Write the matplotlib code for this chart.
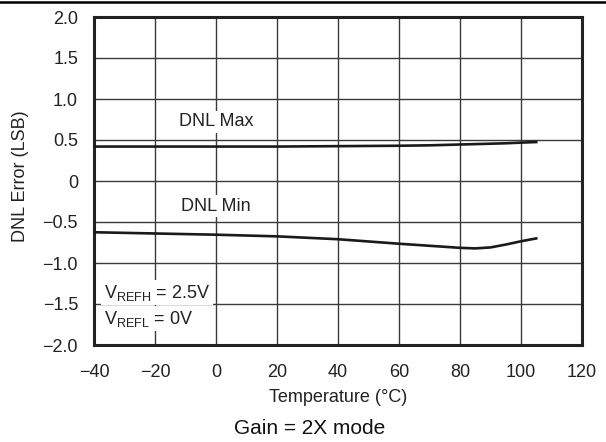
import matplotlib
matplotlib.use("Agg")
import matplotlib.pyplot as plt
from matplotlib.lines import Line2D

plt.rcParams['font.family'] = ['Liberation Sans', 'DejaVu Sans']
plt.rcParams['mathtext.fontset'] = 'custom'
plt.rcParams['mathtext.rm'] = 'Liberation Sans'

temps = [-40, -20, 0, 20, 40, 60, 70, 80, 85, 90, 95, 100, 105]
dnl_max = [0.42, 0.42, 0.42, 0.42, 0.425, 0.43, 0.435, 0.445, 0.45, 0.455, 0.46, 0.468, 0.475]
dnl_min = [-0.625, -0.64, -0.655, -0.675, -0.71, -0.765, -0.79, -0.815, -0.822, -0.81, -0.775, -0.735, -0.70]

x_ticks = [-40, -20, 0, 20, 40, 60, 80, 100, 120]
y_ticks = [-2.0, -1.5, -1.0, -0.5, 0, 0.5, 1.0, 1.5, 2.0]
y_labels = ['\u22122.0', '\u22121.5', '\u22121.0', '\u22120.5', '0', '0.5', '1.0', '1.5', '2.0']
x_labels = ['\u221240', '\u221220', '0', '20', '40', '60', '80', '100', '120']

FS = 13

fig = plt.figure(figsize=(6.06, 4.42), dpi=100)
ax = fig.add_axes([94/606, 1 - 345/442, (582-94)/606, (345-17)/442])

ax.set_xlim(-40, 120)
ax.set_ylim(-2.0, 2.0)
ax.set_xticks(x_ticks)
ax.set_xticklabels(x_labels)
ax.set_yticks(y_ticks)
ax.set_yticklabels(y_labels)
ax.grid(True, color='#3a3a3a', linewidth=1.0)
ax.set_axisbelow(True)
ax.tick_params(axis='both', length=0, labelsize=FS, colors='#222222')
ax.tick_params(axis='x', pad=14)
ax.tick_params(axis='y', pad=11.5)
for s in ax.spines.values():
    s.set_linewidth(2.2)
    s.set_color('#222222')

ax.plot(temps, dnl_max, color='#1a1a1a', linewidth=1.9, zorder=3)
ax.plot(temps, dnl_min, color='#1a1a1a', linewidth=1.9, zorder=3)

box = dict(facecolor='white', edgecolor='none', pad=2)
ax.text(0, 0.72, 'DNL Max', ha='center', va='center', fontsize=FS, color='#222222', bbox=box, zorder=4)
ax.text(0, -0.305, 'DNL Min', ha='center', va='center', fontsize=FS, color='#222222', bbox=box, zorder=4)
ax.text(-36.7, -1.36, r'V$_{\mathregular{REFH}}$ = 2.5V', ha='left', va='center', fontsize=FS, color='#222222', bbox=box, zorder=4)
ax.text(-36.7, -1.68, r'V$_{\mathregular{REFL}}$ = 0V', ha='left', va='center', fontsize=FS, color='#222222', bbox=box, zorder=4)

ax.set_xlabel('Temperature (\u00b0C)', fontsize=FS, color='#222222')
ax.xaxis.set_label_coords(0.5, -(398-345)/328)
ax.xaxis.label.set_va('center')
ax.set_ylabel('DNL Error (LSB)', fontsize=FS, color='#222222')
ax.yaxis.set_label_coords(-(94-21)/488, 0.515)
ax.yaxis.label.set_va('center')

fig.text(310/606, 1 - 429/442, 'Gain = 2X mode', ha='center', va='center', fontsize=15, color='#111111')
fig.add_artist(Line2D([0, 1], [1 - 2/442, 1 - 2/442], color='black', linewidth=1.8, transform=fig.transFigure))

fig.savefig('out.png', dpi=100)
